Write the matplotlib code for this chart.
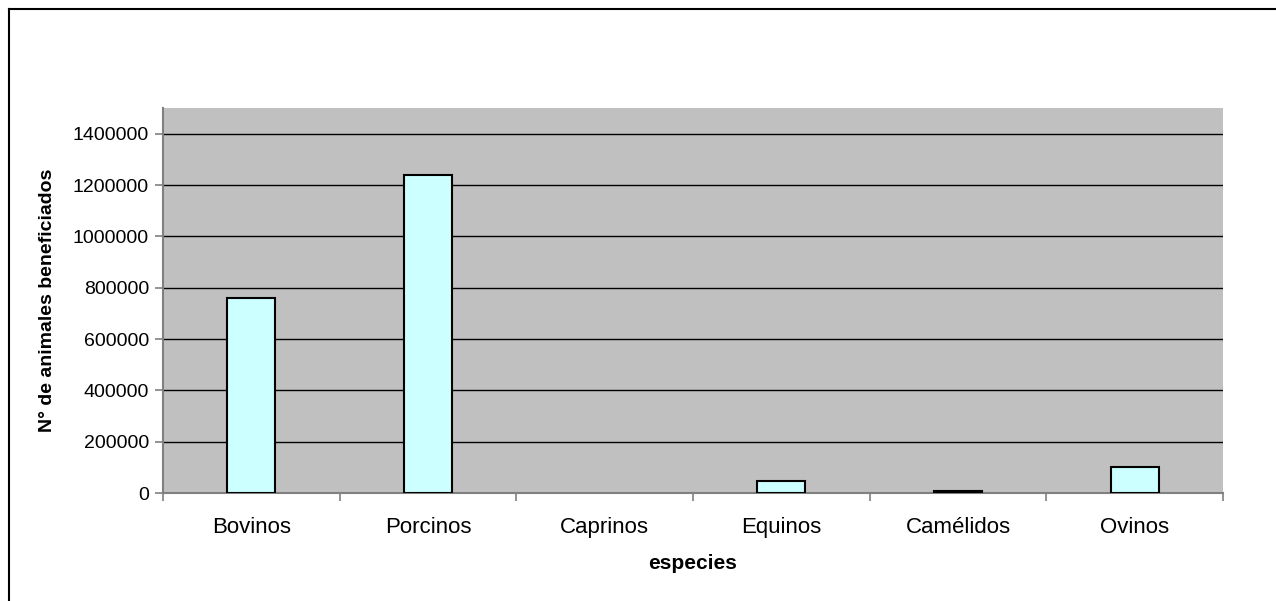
import matplotlib.pyplot as plt
from matplotlib.lines import Line2D
import numpy as np

plt.rcParams['font.family'] = ['Liberation Sans', 'DejaVu Sans']

especies = ['Bovinos', 'Porcinos', 'Caprinos', 'Equinos', 'Camélidos', 'Ovinos']
animales = [760000, 1240000, 0, 48000, 8000, 100000]
yticks = [0, 200000, 400000, 600000, 800000, 1000000, 1200000, 1400000]

fig = plt.figure(figsize=(12.76, 6.01), dpi=100)
ax = fig.add_axes([163 / 1276, 1 - 493 / 601, (1223 - 163) / 1276, (493 - 108) / 601])

x = np.arange(len(especies))
ax.set_facecolor('#C0C0C0')
# zero-height bars show nothing in the original
lw = [1.5 if v > 0 else 0 for v in animales]
ax.bar(x, animales, width=0.27, color='#CCFFFF', edgecolor='black', linewidth=lw, zorder=3)

ax.set_xlim(-0.5, len(especies) - 0.5)
ax.set_ylim(0, 1500000)
ax.set_yticks(yticks)
ax.set_yticklabels([str(v) for v in yticks], fontsize=14)
ax.yaxis.grid(True, color='black', linewidth=1, zorder=1)
ax.set_axisbelow(True)

# category labels centred, ticks on the boundaries
ax.set_xticks(x)
ax.set_xticklabels(especies, fontsize=16)
ax.tick_params(axis='x', which='major', length=0, pad=17)
ax.set_xticks(np.arange(-0.5, len(especies)), minor=True)
ax.tick_params(axis='x', which='minor', length=6, color='#808080', width=1.2, direction='out')
ax.tick_params(axis='y', length=6, color='#808080', width=1.2, pad=4)

for s in ['top', 'right']:
    ax.spines[s].set_visible(False)
for s in ['left', 'bottom']:
    ax.spines[s].set_color('#808080')
    ax.spines[s].set_linewidth(1.5)

ax.set_ylabel('N° de animales beneficiados', fontsize=14, fontweight='bold', labelpad=12)
ax.set_xlabel('especies', fontsize=15, fontweight='bold', labelpad=12)

# chart frame (left and top edges visible)
fig.add_artist(Line2D([8.5 / 1276, 8.5 / 1276], [0, 1 - 9 / 601], transform=fig.transFigure, color='black', linewidth=1.5))
fig.add_artist(Line2D([8.5 / 1276, 1], [1 - 9 / 601, 1 - 9 / 601], transform=fig.transFigure, color='black', linewidth=1.5))

fig.savefig('out.png', dpi=100)
